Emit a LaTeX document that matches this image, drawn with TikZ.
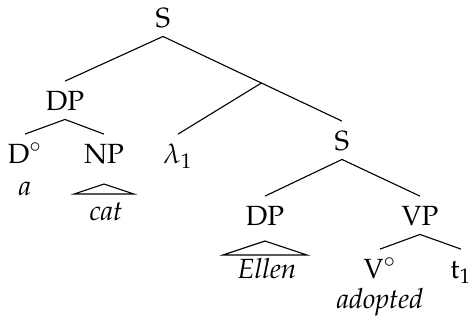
\documentclass[tikz,border=0pt]{standalone}
\usepackage[T1]{fontenc}
\usepackage{mathpazo}
\usepackage{tikz}
\usetikzlibrary{
	positioning,									% 节点的高级摆放
}

\begin{document}
\begin{tikzpicture}[x=0.36pt, y=-0.36pt,
		cat/.style={anchor=base, inner xsep=0pt, inner ysep=3.2pt, text height=7pt, text depth=0pt},
		word/.style={anchor=base, inner sep=0pt, font=\itshape}]
		\useasboundingbox (0,0) rectangle (472,321);
		% 范畴标签
		\node[cat] (s0)  at (163,27)  {S};
		\node[cat] (dp1) at (65,110)  {DP};
		\node[cat] (d)   at (25,163)  {D$^\circ$};
		\node[cat] (np)  at (104,163) {NP};
		\node[cat] (lam) at (178,163) {$\lambda_1$};
		\node[cat] (s1)  at (342,150) {S};
		\node[cat] (dp2) at (265,225) {DP};
		\node[cat] (vp)  at (420,225) {VP};
		\node[cat] (v)   at (380,278) {V$^\circ$};
		\node[cat] (t)   at (461,278) {t$_1$};
		% 词项
		\node[word] (a)       at (25,195)  {a};
		\node[word] (cat)     at (106,220) {cat};
		\node[word] (ellen)   at (267,278) {Ellen};
		\node[word] (adopted) at (380,308) {adopted};
		% 树枝
		\draw (s0.south) -- coordinate[pos=0.55] (mid) (s1.north);
		\draw (s0.south) -- (dp1.north);
		\draw (mid) -- (lam.north);
		\draw (dp1.south) -- (d.north);
		\draw (dp1.south) -- (np.north);
		\draw (s1.south) -- (dp2.north);
		\draw (s1.south) -- (vp.north);
		\draw (vp.south) -- (v.north);
		\draw (vp.south) -- (t.north);
		% 三角形
		\coordinate (npt) at (104,184);
		\coordinate (dpt) at (265,241);
		\draw (npt) -- ++(-30,10) -- ++(60,0) -- cycle;
		\draw (dpt) -- ++(-42,14) -- ++(84,0) -- cycle;
	\end{tikzpicture}
\end{document}
